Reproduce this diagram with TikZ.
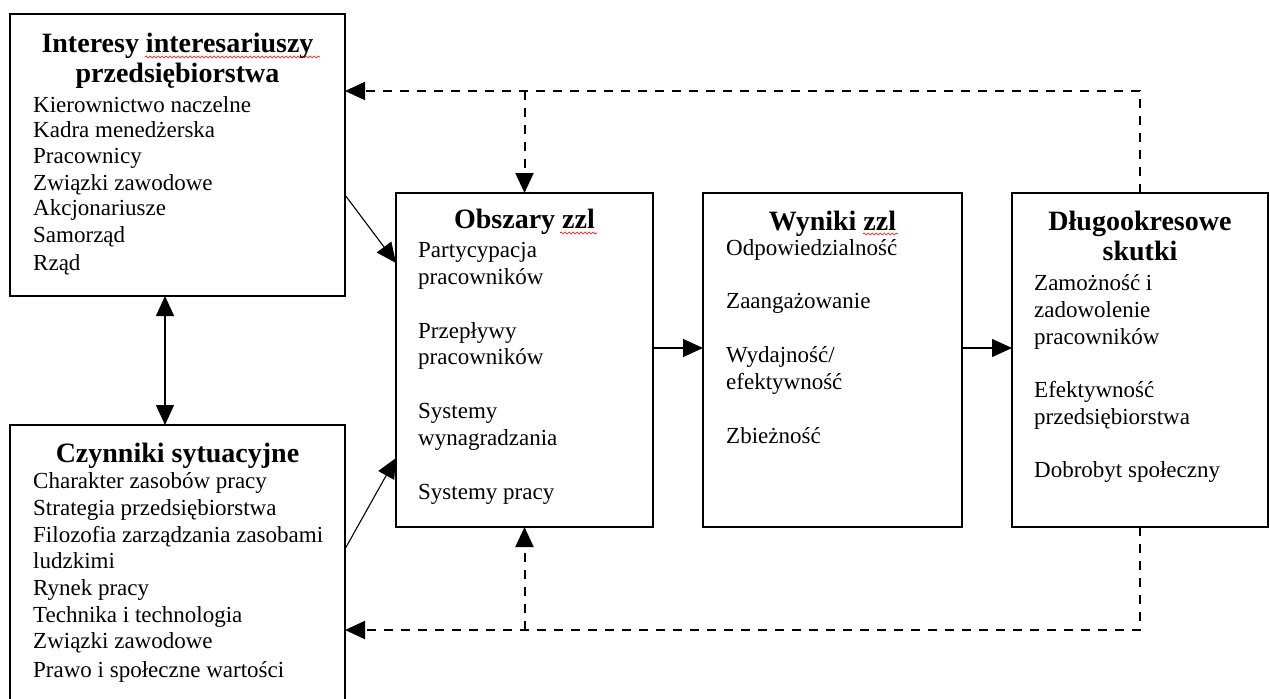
\documentclass[tikz,border=0pt]{standalone}
\usepackage{fontspec}
\setmainfont{Liberation Serif}
\usetikzlibrary{arrows.meta,decorations.pathmorphing}
\begin{document}
\begin{tikzpicture}[x=1pt,y=-1pt,
 box/.style={draw, line width=1.8pt, rectangle, inner sep=0pt, outer sep=0pt},
 ttl/.style={font=\fontsize{28}{30}\selectfont\bfseries, anchor=base, inner sep=0pt},
 itm/.style={font=\fontsize{23}{26}\selectfont, anchor=base west, inner sep=0pt},
 conn/.style={line width=1.4pt, -{Triangle[length=20pt,width=18pt]}},
 diag/.style={line width=1.1pt, -{Triangle[length=20pt,width=18pt]}},
 fb/.style={line width=2pt, dash pattern=on 9pt off 8pt, -{Triangle[length=20pt,width=18pt]}},
 spell/.style={red, line width=0.6pt, decorate, decoration={snake, amplitude=1pt, segment length=4pt}}
]
\clip (0,0) rectangle (1270,699);
\fill[white] (0,0) rectangle (1270,699);

% boxes
\node[box, minimum width=335pt, minimum height=282pt] (A) at (177.5,155) {};
\node[box, minimum width=335pt, minimum height=295pt] (B) at (177.5,572.5) {};
\node[box, minimum width=257pt, minimum height=334pt] (C) at (524.5,360) {};
\node[box, minimum width=259pt, minimum height=334pt] (D) at (832.5,360) {};
\node[box, minimum width=256pt, minimum height=334pt] (E) at (1140,360) {};

% box A text
\node[ttl] (tA1) at (177.5,52) {Interesy interesariuszy};
\node[ttl] (tA2) at (177.5,82) {przedsiębiorstwa};
\node[itm] (a1) at (33,112) {Kierownictwo naczelne};
\node[itm] (a2) at (33,137) {Kadra menedżerska};
\node[itm] (a3) at (33,163) {Pracownicy};
\node[itm] (a4) at (33,190) {Związki zawodowe};
\node[itm] (a5) at (33,215) {Akcjonariusze};
\node[itm] (a6) at (33,242) {Samorząd};
\node[itm] (a7) at (33,270) {Rząd};

% box B text
\node[ttl] (tB1) at (177.5,462) {Czynniki sytuacyjne};
\node[itm] (b1) at (33,488) {Charakter zasobów pracy};
\node[itm] (b2) at (33,515) {Strategia przedsiębiorstwa};
\node[itm] (b3) at (33,542) {Filozofia zarządzania zasobami};
\node[itm] (b4) at (33,568) {ludzkimi};
\node[itm] (b5) at (33,595) {Rynek pracy};
\node[itm] (b6) at (33,622) {Technika i technologia};
\node[itm] (b7) at (33,648) {Związki zawodowe};
\node[itm] (b8) at (33,677) {Prawo i społeczne wartości};

% box C text
\node[ttl] (tC1) at (524.5,228) {Obszary zzl};
\node[itm] (c1) at (418,257) {Partycypacja};
\node[itm] (c2) at (418,284) {pracowników};
\node[itm] (c3) at (418,338) {Przepływy};
\node[itm] (c4) at (418,364) {pracowników};
\node[itm] (c5) at (418,418) {Systemy};
\node[itm] (c6) at (418,445) {wynagradzania};
\node[itm] (c7) at (418,499) {Systemy pracy};

% box D text
\node[ttl] (tD1) at (832.5,230) {Wyniki zzl};
\node[itm] (d1) at (726,255) {Odpowiedzialność};
\node[itm] (d2) at (726,308) {Zaangażowanie};
\node[itm] (d3) at (726,362) {Wydajność/};
\node[itm] (d4) at (726,389) {efektywność};
\node[itm] (d5) at (726,443) {Zbieżność};

% box E text
\node[ttl] (tE1) at (1140,230) {Długookresowe};
\node[ttl] (tE2) at (1140,260) {skutki};
\node[itm] (e1) at (1034,290) {Zamożność i};
\node[itm] (e2) at (1034,317) {zadowolenie};
\node[itm] (e3) at (1034,344) {pracowników};
\node[itm] (e4) at (1034,397) {Efektywność};
\node[itm] (e5) at (1034,424) {przedsiębiorstwa};
\node[itm] (e6) at (1034,477) {Dobrobyt społeczny};

% spell-check marks
\draw[spell] (145,57) -- (320,57);
\draw[spell] (560,233) -- (597,233);
\draw[spell] (863,234) -- (898,234);

% connectors
\draw[diag] ([yshift=-40pt]A.east) -- ([yshift=97pt]C.west);
\draw[diag] ([yshift=23.5pt]B.east) -- ([yshift=-98pt]C.west);
\draw[line width=1.4pt, {Triangle[length=20pt,width=18pt]}-{Triangle[length=20pt,width=18pt]}] ([xshift=-12.5pt]A.south) -- ([xshift=-12.5pt]B.north);
\draw[conn] ([yshift=12pt]C.east) -- ([yshift=12pt]D.west);
\draw[conn] ([yshift=12pt]D.east) -- ([yshift=12pt]E.west);

% feedback loops
\coordinate (tr) at (1140,91);
\coordinate (tm) at (524.5,91);
\coordinate (br) at (1140,630);
\coordinate (bm) at (524.5,630);
\draw[fb] (E.north) -- (tr) -- (A.east |- tr);
\draw[fb] (tm) -- (C.north);
\draw[fb] (E.south) -- (br) -- (B.east |- br);
\draw[fb] (bm) -- (C.south);
\end{tikzpicture}
\end{document}
